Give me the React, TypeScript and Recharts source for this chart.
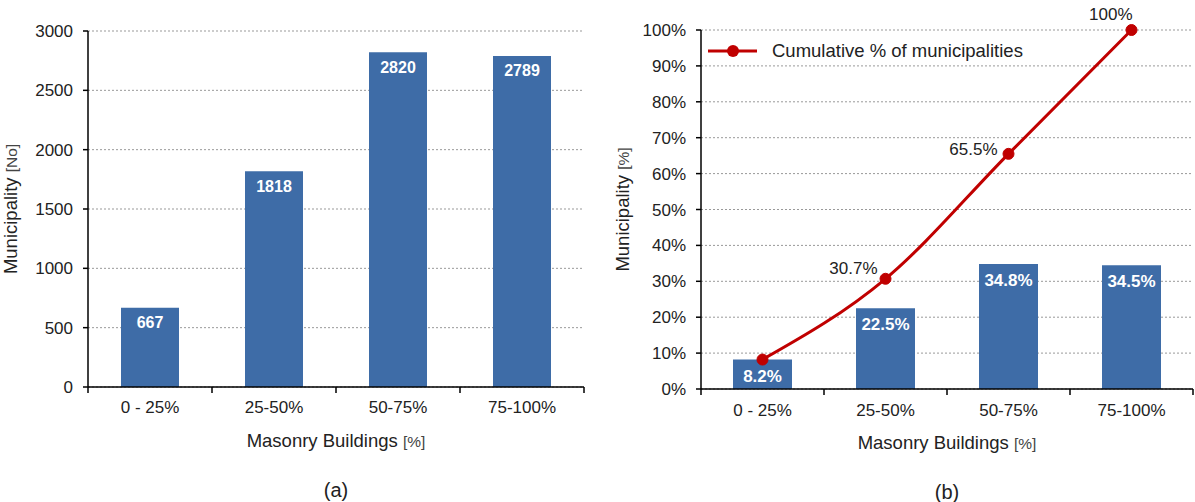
import React from 'react';
import { ComposedChart, Bar, Line, XAxis, YAxis, CartesianGrid, LabelList, Legend } from 'recharts';

const categories = ['0 - 25%', '25-50%', '50-75%', '75-100%'];
const municipalityCounts = [667, 1818, 2820, 2789];
const municipalityShares = [8.2, 22.5, 34.8, 34.5];
const cumulativeShares = [8.2, 30.7, 65.5, 100];
const countTicks = [0, 500, 1000, 1500, 2000, 2500, 3000];
const percentTicks = [0, 10, 20, 30, 40, 50, 60, 70, 80, 90, 100];
const cumulativeName = 'Cumulative % of municipalities';

const countData = categories.map((c, i) => ({ category: c, count: municipalityCounts[i] }));
const shareData = categories.map((c, i) => ({
  category: c,
  share: municipalityShares[i],
  cumulative: cumulativeShares[i],
}));

const FONT = '"Liberation Sans", Arial, Helvetica, sans-serif';
const TEXT = '#222';
const BAR = '#3E6CA7';
const RED = '#C00000';

const LEFT = { width: 600, height: 502, margin: { top: 31, right: 16, bottom: 85, left: 28 }, yAxisWidth: 60, xAxisHeight: 30 };
const RIGHT = { width: 595, height: 502, margin: { top: 30, right: 2, bottom: 83, left: 41 }, yAxisWidth: 60, xAxisHeight: 30 };

const plotBox = (L: typeof LEFT) => {
  const x = L.margin.left + L.yAxisWidth;
  const w = L.width - x - L.margin.right;
  const y = L.margin.top;
  const h = L.height - L.margin.top - L.margin.bottom - L.xAxisHeight;
  return { x, y, w, h, band: w / categories.length };
};

const makeCategoryTick = (band: number, fontSize: number, dy: number) => (props: any) => {
  const { x, y, payload, index } = props;
  const last = index === categories.length - 1;
  return (
    <g>
      <line x1={x - band / 2} x2={x - band / 2} y1={y} y2={y + 6} stroke="#000" strokeWidth={1.5} />
      {last && <line x1={x + band / 2} x2={x + band / 2} y1={y} y2={y + 6} stroke="#000" strokeWidth={1.5} />}
      <text x={x} y={y + dy} textAnchor="middle" fontSize={fontSize} fill={TEXT} fontFamily={FONT}>
        {payload.value}
      </text>
    </g>
  );
};

const makeXTitle = (cx: number, axisY: number, caption: string) => () => (
  <g>
    <text x={cx} y={axisY + 60} textAnchor="middle" fontSize={18.5} fill={TEXT} fontFamily={FONT}>
      Masonry Buildings <tspan fontSize={15.5} fill="#444">[%]</tspan>
    </text>
    <text x={cx} y={axisY + 110} textAnchor="middle" fontSize={20} fill={TEXT} fontFamily={FONT}>
      {caption}
    </text>
  </g>
);

const makeYTitle = (bx: number, cy: number, unit: string) => () => (
  <text transform={`translate(${bx}, ${cy}) rotate(-90)`} textAnchor="middle" fontSize={18.5} fill={TEXT} fontFamily={FONT}>
    Municipality <tspan fontSize={15.5} fill="#444">{unit}</tspan>
  </text>
);

const cumulativeLabel = (props: any) => {
  const { index, value } = props;
  const x = props.x ?? props.viewBox?.x;
  const y = props.y ?? props.viewBox?.y;
  if (index === 0 || x == null || y == null) return null;
  const off = index === 1 ? [-8, -5] : index === 2 ? [-11, 1] : [1, -10];
  return (
    <text x={x + off[0]} y={y + off[1]} textAnchor="end" fontSize={17} fill={TEXT} fontFamily={FONT}>
      {`${value}%`}
    </text>
  );
};

const LegendContent = () => (
  <div style={{ display: 'flex', alignItems: 'center', fontFamily: FONT, fontSize: 18.5, color: TEXT, whiteSpace: 'nowrap' }}>
    <svg width={50} height={14} style={{ display: 'block' }}>
      <line x1={0} x2={49} y1={7} y2={7} stroke={RED} strokeWidth={3} />
      <circle cx={25} cy={7} r={6} fill={RED} />
    </svg>
    <span style={{ marginLeft: 14 }}>{cumulativeName}</span>
  </div>
);

export default function App() {
  const lp = plotBox(LEFT);
  const rp = plotBox(RIGHT);
  return (
    <div style={{ position: 'absolute', left: 0, top: 0, width: 1195, height: 502, background: '#fff', fontFamily: FONT }}>
      <div style={{ position: 'absolute', left: 0, top: 0 }}>
        <ComposedChart width={LEFT.width} height={LEFT.height} data={countData} margin={LEFT.margin}>
          <CartesianGrid vertical={false} stroke="#999" strokeDasharray="2 2" />
          <XAxis
            dataKey="category"
            height={LEFT.xAxisHeight}
            interval={0}
            tickLine={false}
            tickSize={0}
            tickMargin={0}
            axisLine={{ stroke: '#000', strokeWidth: 1.5 }}
            tick={makeCategoryTick(lp.band, 17, 26)}
            label={makeXTitle(lp.x + lp.w / 2, lp.y + lp.h, '(a)')}
          />
          <YAxis
            width={LEFT.yAxisWidth}
            domain={[0, 3000]}
            ticks={countTicks}
            interval={0}
            tickSize={5}
            tickMargin={10}
            axisLine={{ stroke: '#000', strokeWidth: 1.5 }}
            tickLine={{ stroke: '#000', strokeWidth: 1.5 }}
            tick={{ fill: TEXT, fontSize: 17, fontFamily: FONT }}
            label={makeYTitle(17, lp.y + lp.h / 2, '[No]')}
          />
          <Bar dataKey="count" fill={BAR} barSize={58} isAnimationActive={false}>
            <LabelList dataKey="count" position="insideTop" offset={9} fill="#fff" fontSize={16} fontWeight="bold" fontFamily={FONT} />
          </Bar>
        </ComposedChart>
      </div>
      <div style={{ position: 'absolute', left: 600, top: 0 }}>
        <ComposedChart width={RIGHT.width} height={RIGHT.height} data={shareData} margin={RIGHT.margin}>
          <CartesianGrid vertical={false} stroke="#999" strokeDasharray="2 2" />
          <XAxis
            dataKey="category"
            height={RIGHT.xAxisHeight}
            interval={0}
            tickLine={false}
            tickSize={0}
            tickMargin={0}
            axisLine={{ stroke: '#000', strokeWidth: 1.5 }}
            tick={makeCategoryTick(rp.band, 17, 27)}
            label={makeXTitle(rp.x + rp.w / 2, rp.y + rp.h, '(b)')}
          />
          <YAxis
            width={RIGHT.yAxisWidth}
            domain={[0, 100]}
            ticks={percentTicks}
            interval={0}
            tickSize={5}
            tickMargin={10}
            axisLine={{ stroke: '#000', strokeWidth: 1.5 }}
            tickLine={{ stroke: '#000', strokeWidth: 1.5 }}
            tick={{ fill: TEXT, fontSize: 17, fontFamily: FONT }}
            tickFormatter={(v: number) => `${v}%`}
            label={makeYTitle(29, rp.y + rp.h / 2, '[%]')}
          />
          <Legend
            layout="vertical"
            align="center"
            verticalAlign="middle"
            wrapperStyle={{ left: 108, top: 40, width: 'auto', height: 'auto' }}
            content={() => <LegendContent />}
          />
          <Bar dataKey="share" fill={BAR} barSize={59} isAnimationActive={false} legendType="none">
            <LabelList
              dataKey="share"
              position="insideTop"
              offset={10}
              fill="#fff"
              fontSize={17}
              fontWeight="bold"
              fontFamily={FONT}
              formatter={(v: any) => `${v}%`}
            />
          </Bar>
          <Line
            dataKey="cumulative"
            name={cumulativeName}
            type="monotone"
            stroke={RED}
            strokeWidth={3}
            dot={{ r: 5.5, fill: RED, stroke: RED, strokeWidth: 1 }}
            activeDot={false}
            isAnimationActive={false}
          >
            <LabelList dataKey="cumulative" content={cumulativeLabel} />
          </Line>
        </ComposedChart>
      </div>
    </div>
  );
}
